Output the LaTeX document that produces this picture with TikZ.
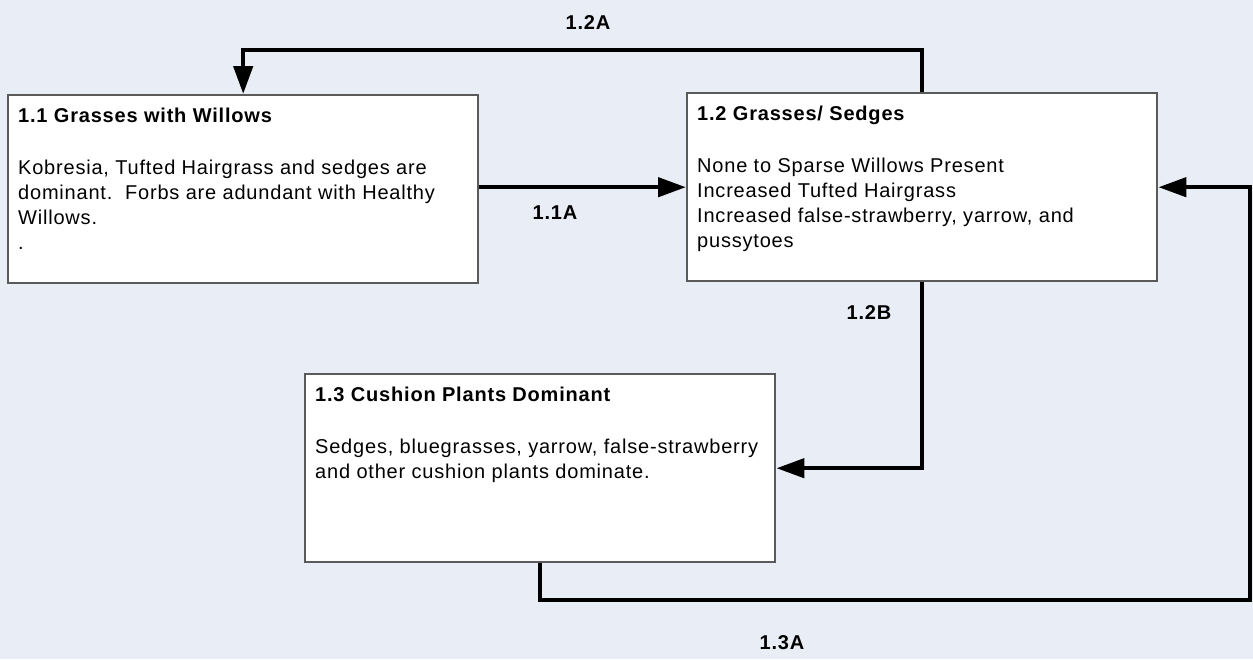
\documentclass[tikz,border=0pt]{standalone}
\usepackage{fontspec}
\setmainfont{Liberation Sans}[LetterSpace=4]
\usetikzlibrary{calc}
\usetikzlibrary{arrows.meta}
\usetikzlibrary{backgrounds}

\definecolor{paper}{HTML}{E9EDF5}
\definecolor{rim}{HTML}{5A5A5A}
\tikzset{
  statebox/.style={draw=rim,line width=2.4pt,fill=white,inner xsep=10pt,inner ysep=13pt,anchor=north west},
  flow/.style={line width=4.5pt,-{Triangle[length=28pt,width=19pt]}},
  pathlabel/.style={font=\bfseries}
}
\newcommand{\boxtext}[2]{\parbox[t][162pt][t]{450pt}{\raggedright\textbf{#1}\\[27pt]#2}}

\begin{document}
\fontsize{20}{25}\selectfont
\begin{tikzpicture}[x=1pt,y=-1pt]
\useasboundingbox[fill=paper] (0,0) rectangle (1253,659);
\coordinate(C) at (1250,600);
\node[statebox] (b11) at (7,94) {\boxtext{1.1 Grasses with Willows}{Kobresia, Tufted Hairgrass and sedges are\\ dominant.\ \ Forbs are adundant with Healthy\\ Willows.\\ .}};
\node[statebox] (b12) at (686,92) {\boxtext{1.2 Grasses/ Sedges}{None to Sparse Willows Present\\ Increased Tufted Hairgrass\\ Increased false-strawberry, yarrow, and\\ pussytoes}};
\node[statebox] (b13) at (304,373) {\boxtext{1.3 Cushion Plants Dominant}{Sedges, bluegrasses, yarrow, false-strawberry\\ and other cushion plants dominate.}};
% transitions
\draw[flow] ($(b11.east)+(0,-2)$) -- ($(b11.east -| b12.west)+(0,-2)$);
\draw[flow] (b12.north) -- ++(0,-42) -| (b11.north);
\draw[flow] (b12.south) |- (b13.east);
\draw[flow] (b13.south) |- (C) |- (b12.east);
\node[pathlabel] (l11a) at (555,213) {1.1A};
\node[pathlabel] (l12a) at (588,23) {1.2A};
\node[pathlabel] (l12b) at (869,313) {1.2B};
\node[pathlabel] (l13a) at (782,643) {1.3A};
\end{tikzpicture}
\end{document}
